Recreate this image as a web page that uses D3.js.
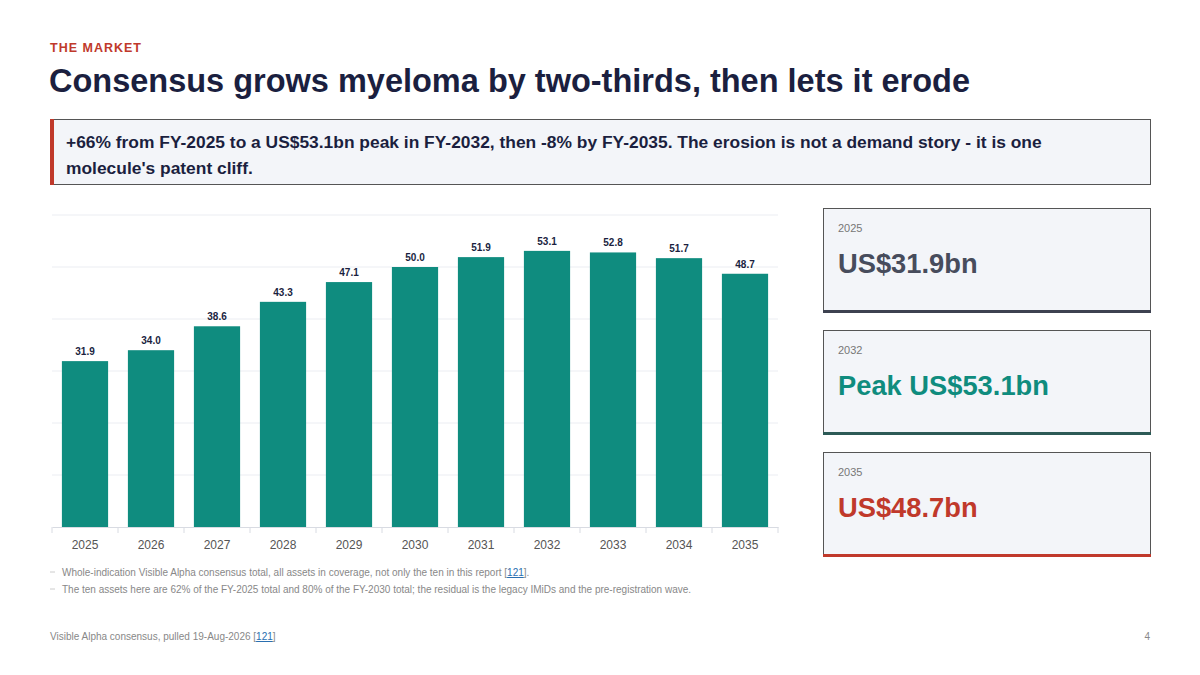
<!DOCTYPE html>
<html><head><meta charset="utf-8">
<script src="https://cdn.jsdelivr.net/npm/d3@7"></script>
<style>
body{margin:0;background:#fff;font-family:"Liberation Sans",Arial,sans-serif;}
svg{display:block}
</style></head><body>
<svg id="c" width="1200" height="675"></svg>
<script>
const years = ["2025","2026","2027","2028","2029","2030","2031","2032","2033","2034","2035"];
const values = [31.9,34.0,38.6,43.3,47.1,50.0,51.9,53.1,52.8,51.7,48.7];
const yTicks = [0,10,20,30,40,50,60];
const cardLabels = ["2025","2032","2035"];
const cardValues = ["US$31.9bn","Peak US$53.1bn","US$48.7bn"];
const cardColors = ["#474c5c","#0f8c7e","#c0392b"];
const cardBorders = ["#3d4150","#2c5a56","#c0392b"];
const notes = ["Whole-indication Visible Alpha consensus total, all assets in coverage, not only the ten in this report [",
  "The ten assets here are 62% of the FY-2025 total and 80% of the FY-2030 total; the residual is the legacy IMiDs and the pre-registration wave."];

const svg = d3.select("#c");
const navy = "#1b1f3f";

svg.append("text").attr("x",50).attr("y",52).attr("fill","#c0392b").attr("font-size",12.5).attr("font-weight","bold").attr("letter-spacing",1).text("THE MARKET");
svg.append("text").attr("x",49).attr("y",92).attr("fill",navy).attr("font-size",32.5).attr("font-weight","bold").text("Consensus grows myeloma by two-thirds, then lets it erode");

// callout
svg.append("rect").attr("x",50.5).attr("y",119.5).attr("width",1100).attr("height",65).attr("fill","#f3f5f9").attr("stroke","#555").attr("stroke-width",1);
svg.append("rect").attr("x",50).attr("y",119).attr("width",4).attr("height",66).attr("fill","#c0392b");
const ct = svg.append("text").attr("fill",navy).attr("font-size",17.4).attr("font-weight","bold");
ct.append("tspan").attr("x",66).attr("y",148).text("+66% from FY-2025 to a US$53.1bn peak in FY-2032, then -8% by FY-2035. The erosion is not a demand story - it is one");
ct.append("tspan").attr("x",66).attr("y",174).text("molecule's patent cliff.");

// chart
const x = d3.scaleBand().domain(years).range([52,778]).paddingInner(0.3).paddingOuter(0.15);
const y = d3.scaleLinear().domain([0,60]).range([527,215]);

svg.append("g").selectAll("line").data(yTicks.slice(1)).join("line")
  .attr("x1",52).attr("x2",778).attr("y1",d=>y(d)).attr("y2",d=>y(d))
  .attr("stroke","#ebedf2").attr("stroke-width",1);

svg.append("g").selectAll("rect").data(values).join("rect")
  .attr("x",(d,i)=>x(years[i])).attr("width",x.bandwidth())
  .attr("y",d=>y(d)).attr("height",d=>y(0)-y(d)).attr("fill","#0f8c7f");

svg.append("g").selectAll("text").data(values).join("text")
  .attr("x",(d,i)=>x(years[i])+x.bandwidth()/2).attr("y",d=>y(d)-6)
  .attr("text-anchor","middle").attr("font-size",10).attr("font-weight","bold").attr("fill",navy)
  .text(d=>d.toFixed(1));

const xa = svg.append("g").attr("transform","translate(0,527)")
  .call(d3.axisBottom(x).tickSize(0).tickPadding(13));
xa.select(".domain").attr("stroke","#d8dbe2");
xa.selectAll("text").attr("font-size",12).attr("fill","#555").attr("font-family","Liberation Sans, Arial, sans-serif");
// boundary ticks
const step = x.step();
const bounds = d3.range(years.length+1).map(i=> i===0?52:(i===years.length?778:x(years[i-1])+x.bandwidth()+ (step-x.bandwidth())/2));
svg.append("g").selectAll("line").data(bounds).join("line")
  .attr("x1",d=>d).attr("x2",d=>d).attr("y1",527).attr("y2",533).attr("stroke","#d8dbe2");

// cards
cardLabels.forEach((lab,i)=>{
  const top = 208 + i*122;
  const g = svg.append("g");
  g.append("rect").attr("x",823.5).attr("y",top+0.5).attr("width",327).attr("height",104).attr("fill","#f3f5f9").attr("stroke","#555");
  g.append("rect").attr("x",823).attr("y",top+102).attr("width",328).attr("height",3).attr("fill",cardBorders[i]);
  g.append("text").attr("x",838).attr("y",top+24).attr("font-size",11).attr("fill","#777").text(lab);
  g.append("text").attr("x",838).attr("y",top+65).attr("font-size",27.3).attr("font-weight","bold").attr("fill",cardColors[i]).text(cardValues[i]);
});

// notes
notes.forEach((n,i)=>{
  const yy = 576 + i*17;
  svg.append("line").attr("x1",50).attr("x2",55).attr("y1",yy-4).attr("y2",yy-4).attr("stroke","#ccc");
  const t = svg.append("text").attr("x",62).attr("y",yy).attr("font-size",10).attr("fill","#888");
  t.append("tspan").text(n);
  if(i===0){ t.append("tspan").attr("fill","#2a6fb0").attr("text-decoration","underline").text("121"); t.append("tspan").text("]."); }
});

const f = svg.append("text").attr("x",50).attr("y",640).attr("font-size",10).attr("fill","#888");
f.append("tspan").text("Visible Alpha consensus, pulled 19-Aug-2026 [");
f.append("tspan").attr("fill","#2a6fb0").attr("text-decoration","underline").text("121");
f.append("tspan").text("]");
svg.append("text").attr("x",1150).attr("y",640).attr("text-anchor","end").attr("font-size",10).attr("fill","#888").text("4");
</script></body></html>
